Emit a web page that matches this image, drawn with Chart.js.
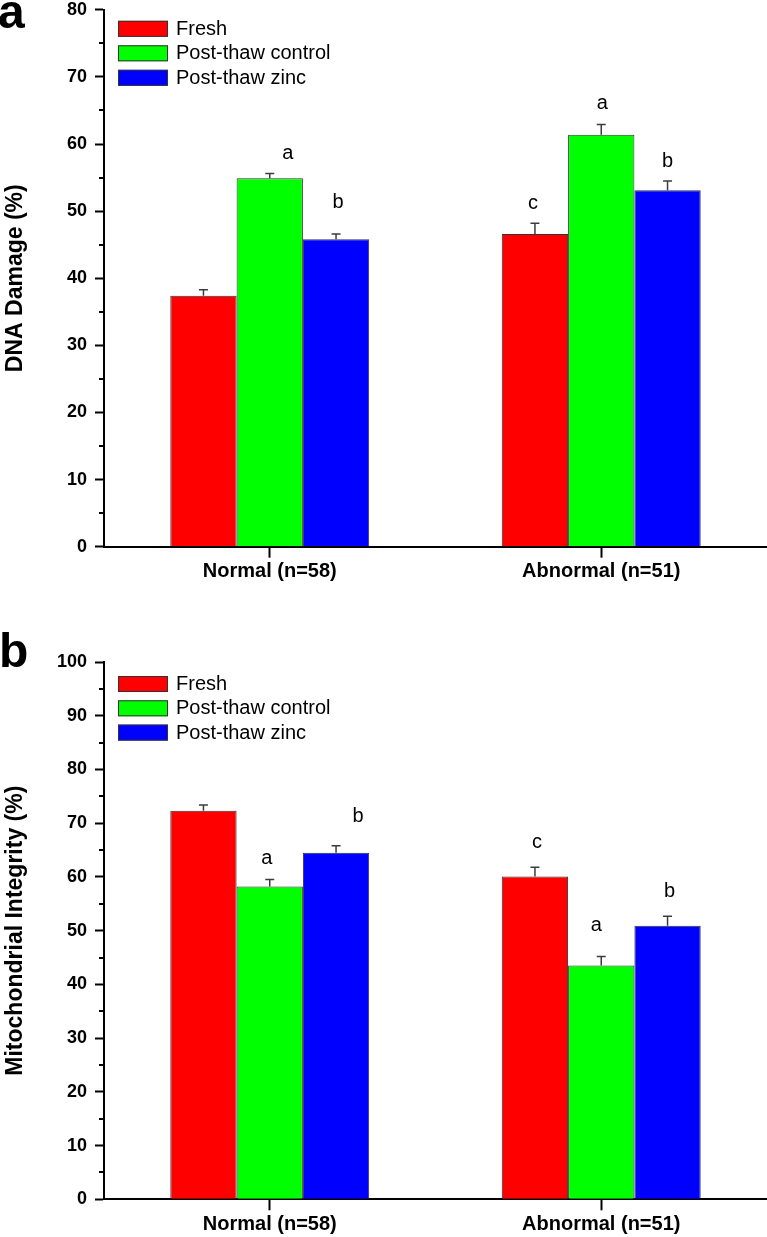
<!DOCTYPE html>
<html><head><meta charset="utf-8">
<script src="https://cdn.jsdelivr.net/npm/chart.js@4.4.0/dist/chart.umd.min.js"></script>
<style>
html,body{margin:0;padding:0;background:#fff;}
#wrap{position:relative;width:767px;height:1237px;overflow:hidden;background:#fff;}
.cv{position:absolute;left:0;}
.panel{position:absolute;font-family:"Liberation Sans",Arial,sans-serif;font-weight:bold;font-size:48px;line-height:1;color:#000;}
</style></head>
<body><div id="wrap">
<canvas id="c1" class="cv" width="767" height="621" style="top:-9px"></canvas>
<canvas id="c2" class="cv" width="767" height="625" style="top:612px"></canvas>
<div class="panel" style="left:-2px;top:-12px">a</div>
<div class="panel" style="left:-1px;top:627px">b</div>
</div>
<script>
// ---------- data ----------
const categories = ['Normal (n=58)', 'Abnormal (n=51)'];
const seriesNames = ['Fresh', 'Post-thaw control', 'Post-thaw zinc'];

// Panel a: DNA damage (%)
const dnaFresh = [37.4, 46.6];
const dnaControl = [54.9, 61.4];
const dnaZinc = [45.8, 53.1];
const dnaFreshErr = [0.9, 1.6];
const dnaControlErr = [0.7, 1.5];
const dnaZincErr = [0.8, 1.4];
const dnaFreshSig = ['', 'c'];
const dnaControlSig = ['a', 'a'];
const dnaZincSig = ['b', 'b'];
const dnaTicks = [0, 10, 20, 30, 40, 50, 60, 70, 80];

// Panel b: Mitochondrial integrity (%)
const mitoFresh = [72.3, 60.1];
const mitoControl = [58.2, 43.5];
const mitoZinc = [64.5, 50.9];
const mitoFreshErr = [1.1, 1.7];
const mitoControlErr = [1.3, 1.7];
const mitoZincErr = [1.3, 1.8];
const mitoFreshSig = ['', 'c'];
const mitoControlSig = ['a', 'a'];
const mitoZincSig = ['b', 'b'];
const mitoTicks = [0, 10, 20, 30, 40, 50, 60, 70, 80, 90, 100];

// ---------- annotation placement (letter anchor in axis units, x shift in px) ----------
const dnaSigPlace = [
  {y: [null, 51.2], dx: [0, -2]},
  {y: [58.6, 66.0], dx: [18, 1]},
  {y: [51.3, 57.4], dx: [2, 0]}
];
const mitoSigPlace = [
  {y: [null, 66.5], dx: [0, 2]},
  {y: [63.4, 50.9], dx: [-3, -5]},
  {y: [71.2, 57.2], dx: [22, 2]}
];

const FONT = '"Liberation Sans", Arial, sans-serif';
const colors = ['#ff0000', '#00ff00', '#0000ff'];

const extrasPlugin = {
  id: 'extras',
  afterDatasetsDraw(chart) {
    const o = chart.options.plugins.extras;
    const ctx = chart.ctx;
    const ys = chart.scales.y;
    const ca = chart.chartArea;
    ctx.save();
    // minor ticks
    ctx.strokeStyle = '#000';
    ctx.lineWidth = 2;
    for (let v = ys.min + o.minorStep; v < ys.max; v += o.minorStep * 2) {
      const py = Math.round(ys.getPixelForValue(v));
      ctx.beginPath();
      ctx.moveTo(ca.left - 5, py);
      ctx.lineTo(ca.left, py);
      ctx.stroke();
    }
    // error bars (upper)
    ctx.strokeStyle = '#3c3c3c';
    ctx.lineWidth = 1.5;
    chart.data.datasets.forEach((ds, di) => {
      const meta = chart.getDatasetMeta(di);
      meta.data.forEach((bar, i) => {
        const top = ys.getPixelForValue(ds.data[i] + ds.errors[i]);
        ctx.beginPath();
        ctx.moveTo(bar.x, bar.y);
        ctx.lineTo(bar.x, top);
        ctx.moveTo(bar.x - 4.5, top);
        ctx.lineTo(bar.x + 4.5, top);
        ctx.stroke();
      });
    });
    // significance letters
    ctx.fillStyle = '#000';
    ctx.font = '20px ' + FONT;
    ctx.textAlign = 'center';
    ctx.textBaseline = 'middle';
    chart.data.datasets.forEach((ds, di) => {
      const meta = chart.getDatasetMeta(di);
      const pl = o.sigPlace[di];
      meta.data.forEach((bar, i) => {
        const t = ds.sig[i];
        if (!t) return;
        ctx.fillText(t, bar.x + pl.dx[i], ys.getPixelForValue(pl.y[i]));
      });
    });
    // legend
    ctx.textAlign = 'left';
    ctx.textBaseline = 'middle';
    chart.data.datasets.forEach((ds, di) => {
      const bx = ca.left + 14, by = ca.top + o.legendTop + di * o.legendStep;
      ctx.fillStyle = ds.backgroundColor;
      ctx.fillRect(bx, by, 50, 16);
      ctx.strokeStyle = '#333';
      ctx.lineWidth = 1;
      ctx.strokeRect(bx + 0.5, by + 0.5, 49, 15);
      ctx.fillStyle = '#000';
      ctx.fillText(ds.label, bx + 58, by + 8.5);
    });
    ctx.restore();
  }
};

function makeChart(id, vals, errs, sigs, place, yMax, yTitle, padTop, xAxisH, legendTop, legendStep) {
  const datasets = seriesNames.map((name, k) => ({
    label: name,
    data: vals[k],
    errors: errs[k],
    sig: sigs[k],
    backgroundColor: colors[k],
    borderColor: '#333333',
    borderWidth: 1,
    categoryPercentage: 0.6,
    barPercentage: 1.0
  }));
  return new Chart(document.getElementById(id), {
    type: 'bar',
    data: {labels: categories, datasets},
    plugins: [extrasPlugin],
    options: {
      responsive: false,
      animation: false,
      events: [],
      layout: {padding: {top: padTop, left: 0, right: 0, bottom: 0}},
      plugins: {
        legend: {display: false},
        tooltip: {enabled: false},
        extras: {sigPlace: place, minorStep: 5, legendTop, legendStep}
      },
      scales: {
        x: {
          type: 'category',
          offset: true,
          grid: {display: true, drawOnChartArea: false, offset: false, tickLength: 11, tickColor: '#000', tickWidth: 2},
          border: {display: true, color: '#000', width: 2},
          ticks: {color: '#000', font: {family: FONT, size: 20, weight: 'bold'}, padding: 2, maxRotation: 0, autoSkip: false},
          afterFit: s => { s.height = xAxisH; }
        },
        y: {
          min: 0,
          max: yMax,
          ticks: {stepSize: 10, color: '#000', font: {family: FONT, size: 18, weight: 'bold'}, padding: 8},
          grid: {drawOnChartArea: false, tickLength: 9, tickColor: '#000', tickWidth: 2},
          border: {display: true, color: '#000', width: 2},
          title: {display: true, text: yTitle, color: '#000', font: {family: FONT, size: 23, weight: 'bold'}, padding: {top: 2, bottom: 0}},
          afterFit: s => { s.width = 104; }
        }
      }
    }
  });
}

makeChart('c1',
  [dnaFresh, dnaControl, dnaZinc],
  [dnaFreshErr, dnaControlErr, dnaZincErr],
  [dnaFreshSig, dnaControlSig, dnaZincSig],
  dnaSigPlace, dnaTicks[dnaTicks.length - 1], 'DNA Damage (%)', 9, 65.3, 11, 24.5);

makeChart('c2',
  [mitoFresh, mitoControl, mitoZinc],
  [mitoFreshErr, mitoControlErr, mitoZincErr],
  [mitoFreshSig, mitoControlSig, mitoZincSig],
  mitoSigPlace, mitoTicks[mitoTicks.length - 1], 'Mitochondrial Integrity (%)', 50, 37.7, 14, 24.3);
</script>
</body></html>
